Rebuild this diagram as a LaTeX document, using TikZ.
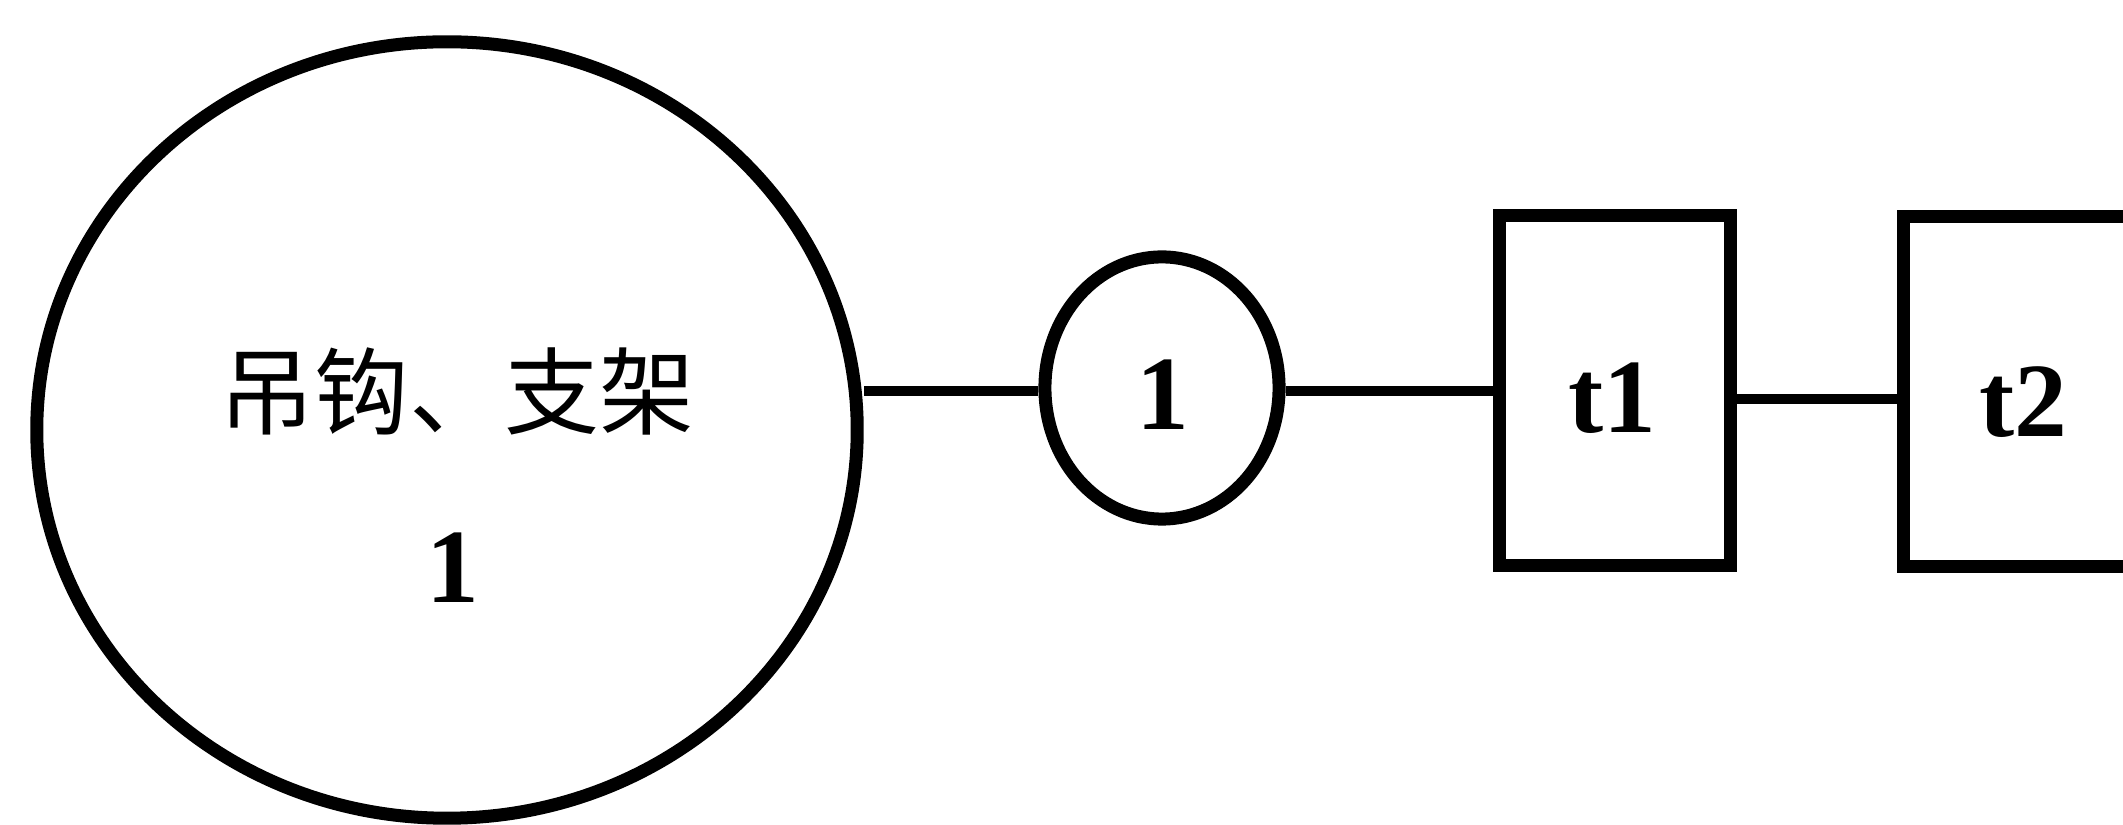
\documentclass[tikz,border=0pt]{standalone}
\usepackage{fontspec}
\setmainfont{Liberation Serif}
\newfontfamily\cjk{Noto Sans CJK SC}
\usetikzlibrary{shapes.geometric,calc}
\tikzset{
  shapeline/.style={draw=black, line width=3.7pt, inner sep=0pt},
  bigell/.style={shapeline, ellipse, minimum width=8.2cm, minimum height=7.76cm},
  smallell/.style={shapeline, ellipse, minimum width=2.34cm, minimum height=2.62cm},
  tbox/.style={shapeline, rectangle, minimum width=2.30cm, minimum height=3.49cm},
  conn/.style={draw=black, line width=2.85pt},
  lbl/.style={inner sep=0pt, anchor=base, font=\fontsize{30}{36}\selectfont\bfseries},
  cjklbl/.style={inner sep=0pt, anchor=base, font=\cjk\fontsize{27}{32}\selectfont}
}
\begin{document}
\begin{tikzpicture}[x=0.01cm, y=-0.01cm]
\useasboundingbox (0,0) rectangle (2123,825);
\clip (0,0) rectangle (2123,825);
\fill[white] (0,0) rectangle (2123,825);
% shapes
\node[bigell] (big) at (447,430) {};
\node[smallell] (small) at (1162,388) {};
\node[tbox] (t1) at (1615,390.5) {};
\node[tbox] (t2) at (2019,391.5) {};
% labels
\node[cjklbl] (bigname) at (457,428) {吊钩、支架};
\node[lbl] (bignum) at (453,603) {1};
\node[lbl] (smallnum) at (1163,430) {1};
\node[lbl] (t1lbl) at (1612,433) {t1};
\node[lbl] (t2lbl) at (2023,437) {t2};
% connectors
\coordinate (c1) at ($(small.west)+(0,3)$);
\draw[conn] (c1) -- (c1 -| big.east);
\draw[conn] ($(small.east)+(0,3)$) -- ($(t1.west)+(0,0.5)$);
\draw[conn] ($(t1.east)+(0,8.5)$) -- ($(t2.west)+(0,7.5)$);
\end{tikzpicture}
\end{document}
